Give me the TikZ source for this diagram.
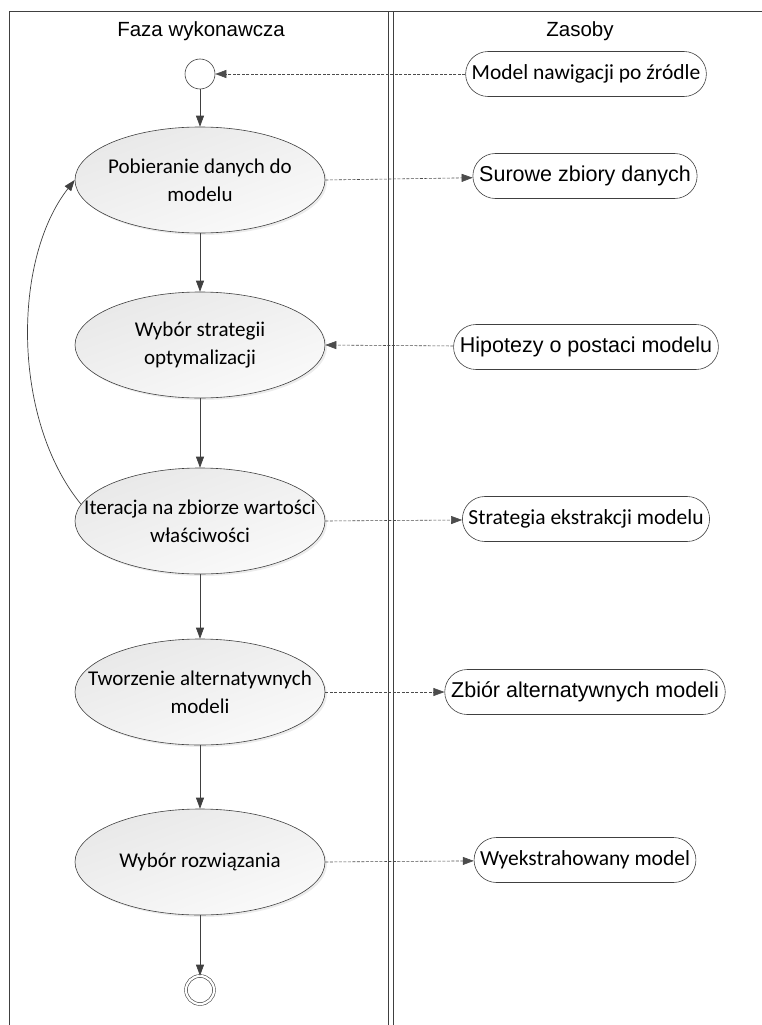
\documentclass[tikz,border=0pt]{standalone}
\usepackage{fontspec}
\setmainfont{Liberation Sans}
\newfontfamily\calfont{Carlito}
\usetikzlibrary{shapes.geometric,shapes.misc,arrows.meta,shadows}
\begin{document}
\begin{tikzpicture}[x=1pt,y=-1pt,
  lane/.style={draw=black!75,line width=1pt},
  activity/.style={ellipse,draw=black!75,line width=0.6pt,minimum width=250pt,minimum height=106pt,
    top color=black!9,bottom color=black!2,shading angle=20,inner xsep=-30pt,inner ysep=0pt,
    font=\calfont\fontsize{21}{28}\selectfont,align=center,
    drop shadow={shadow xshift=2pt,shadow yshift=-2pt,fill=black!12,opacity=0.6}},
  resource/.style={rounded rectangle,draw=black!75,line width=0.6pt,inner xsep=4pt,inner ysep=0pt,
    minimum height=45pt,fill=white},
  sanslabel/.style={font=\fontsize{21.5}{24}\selectfont},
  callabel/.style={font=\calfont\fontsize{21.5}{24}\selectfont},
  startnode/.style={circle,draw=black!75,line width=0.6pt,minimum size=30pt,inner sep=0pt,fill=white},
  endnode/.style={circle,draw=black!75,line width=0.6pt,double=white,double distance=2.2pt,minimum size=28pt,inner sep=0pt,fill=white},
  flow/.style={draw=black!75,line width=0.7pt,-{Triangle[length=11pt,width=8pt]}},
  usage/.style={draw=black!70,line width=0.6pt,dash pattern=on 3pt off 1.5pt,-{Triangle[length=11pt,width=8pt]}},
]
\useasboundingbox (0,0) rectangle (762,1025);
\tikzset{every node/.append style={text=black}}
% swimlanes
\draw[lane] (9,1025) -- (9,12) -- (762,12);
\draw[lane] (388,12) -- (388,1025);
\draw[lane] (393,12) -- (393,1025);
\node[font=\fontsize{20.5}{22}\selectfont] (lanea) at (201,31) {Faza wykonawcza};
\node[font=\fontsize{20.5}{22}\selectfont] (laneb) at (580,31) {Zasoby};

% activity flow
\node[startnode] (start) at (200,74) {};
\node[activity] (a1) at (200,180) {Pobieranie danych do\\modelu};
\node[activity] (a2) at (200,345) {Wybór strategii\\optymalizacji};
\node[activity] (a3) at (200,521) {Iteracja na zbiorze wartości\\właściwości};
\node[activity] (a4) at (200,692) {Tworzenie alternatywnych\\modeli};
\node[activity] (a5) at (200,862) {Wybór rozwiązania};
\node[endnode] (stop) at (200,990) {};

% resources
\node[resource,callabel] (r1) at (586,74) {Model nawigacji po źródle};
\node[resource,sanslabel] (r2) at (585,176) {Surowe zbiory danych};
\node[resource,sanslabel] (r3) at (586,347) {Hipotezy o postaci modelu};
\node[resource,callabel] (r4) at (586,519) {Strategia ekstrakcji modelu};
\node[resource,sanslabel] (r5) at (585,692) {Zbiór alternatywnych modeli};
\node[resource,callabel] (r6) at (585,860) {Wyekstrahowany model};

% control flow
\draw[flow] (start) -- (a1);
\draw[flow] (a1) -- (a2);
\draw[flow] (a2) -- (a3);
\draw[flow] (a3) -- (a4);
\draw[flow] (a4) -- (a5);
\draw[flow] (a5) -- (stop);
\draw[flow] (a3.172) .. controls (12,420) and (12,260) .. (a1.west);

% resource usage
\draw[usage] (r1) -- (start);
\draw[usage] (a1.east) -- (r2);
\draw[usage] (r3) -- (a2.east);
\draw[usage] (a3.east) -- (r4);
\draw[usage] (a4.east) -- (r5);
\draw[usage] (a5.east) -- (r6);
\end{tikzpicture}
\end{document}
